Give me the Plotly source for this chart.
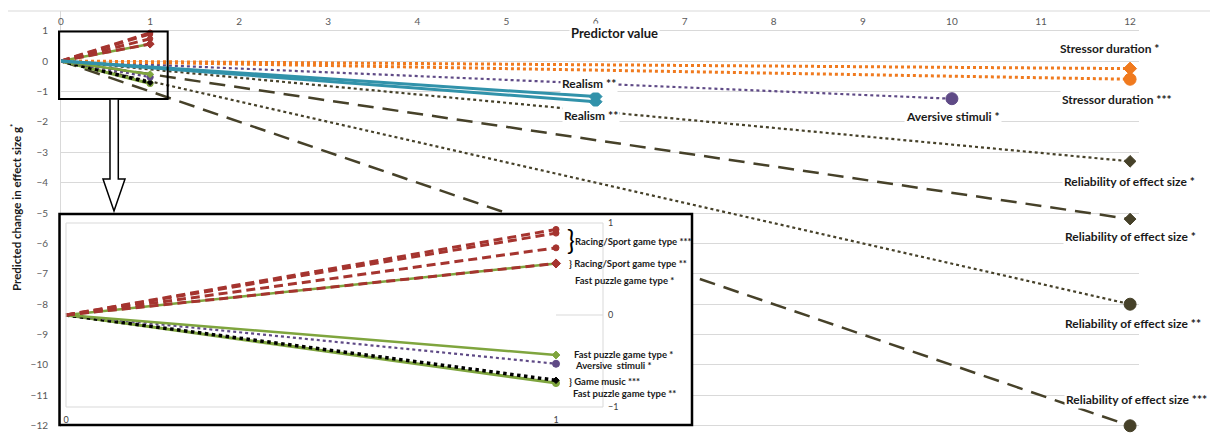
import plotly.graph_objects as go

# ---------------- data ----------------
# main chart series (predictor value -> predicted change in g)
stressor_x = [0, 12]
stressor1_y = [0, -0.25]      # Stressor duration *
stressor3_y = [0, -0.60]      # Stressor duration ***
realism_x = [0, 6]
realism_a_y = [0, -1.17]      # Realism **
realism_b_y = [0, -1.34]      # Realism **
aversive_x = [0, 10]
aversive_y = [0, -1.24]       # Aversive stimuli *
reliab_x = [0, 12]
reliab1_dot_y = [0, -3.3]     # Reliability of effect size *
reliab1_dash_y = [0, -5.2]    # Reliability of effect size *
reliab2_y = [0, -8.0]         # Reliability of effect size **
reliab3_y = [0, -12.0]        # Reliability of effect size ***

# dichotomous predictors (0 -> 1), shown in the inset
inset_x = [0, 1]
racing3_a_y = [0, 0.93]       # Racing/Sport game type ***
racing3_b_y = [0, 0.89]
racing3_c_y = [0, 0.73]
racing2_y = [0, 0.56]         # Racing/Sport game type **
fastpuzzle_pos_y = [0, 0.56]  # Fast puzzle game type *
fastpuzzle1_y = [0, -0.435]   # Fast puzzle game type *
aversive_in_y = [0, -0.53]    # Aversive stimuli *
music_y = [0, -0.71]          # Game music ***
fastpuzzle2_y = [0, -0.74]    # Fast puzzle game type **

main_xticks = list(range(0, 13))
main_yticks = list(range(-12, 2))
inset_xticks = [0, 1]
inset_yticks = [-1, 0, 1]

# ---------------- styling ----------------
ORANGE = "#F07A1E"
TEAL = "#3192AA"
PURPLE = "#5F4A86"
OLIVE = "#464129"
RED = "#A5342F"
GREEN = "#7FA53E"
GRID = "#d9d9d9"
FONT = "Lato"

# page body adds an 8px offset; figure is sized so it fits the window
OFF = 8
W, H = 1218 - OFF, 433 - OFF
L, R, T, B = 61, 1139, 11, 427          # plot area in window pixels
PW, PH = R - L, B - T


def pxx(px):
    return (px - L) / PW


def pyy(py):
    return (B - py) / PH


fig = go.Figure()


def add(x, y, color, width, dash, symbol, msize, axes=("x", "y")):
    fig.add_trace(go.Scatter(
        x=x, y=y, mode="lines+markers",
        line=dict(color=color, width=width, dash=dash),
        marker=dict(symbol=symbol, size=[0, msize], color=color, opacity=1,
                    line=dict(width=1, color=color)),
        xaxis=axes[0], yaxis=axes[1], cliponaxis=False,
        hoverinfo="skip", showlegend=False))


# main chart
add(reliab_x, reliab3_y, OLIVE, 2.5, "16px,9px", "circle", 12)
add(reliab_x, reliab2_y, OLIVE, 2.2, "dot", "circle", 12)
add(reliab_x, reliab1_dash_y, OLIVE, 2.5, "16px,9px", "diamond", 9)
add(reliab_x, reliab1_dot_y, OLIVE, 2.2, "dot", "diamond", 9)
add(aversive_x, aversive_y, PURPLE, 2.2, "dot", "circle", 12)
add(stressor_x, stressor3_y, ORANGE, 3, "dot", "circle", 12)
add(stressor_x, stressor1_y, ORANGE, 3, "dot", "diamond", 10)


def add_dichotomous(axes, scale):
    add(inset_x, fastpuzzle2_y, GREEN, 3, "solid", "circle", 7 * scale, axes)
    add(inset_x, music_y, "black", 3.5, "dot", "diamond", 5 * scale, axes)
    add(inset_x, aversive_in_y, PURPLE, 2.2, "dot", "circle", 7 * scale, axes)
    add(inset_x, fastpuzzle1_y, GREEN, 2.5, "solid", "diamond", 6 * scale, axes)
    add(inset_x, fastpuzzle_pos_y, GREEN, 2.5, "solid", "diamond", 5 * scale, axes)
    add(inset_x, racing2_y, RED, 3, "9px,5px", "diamond", 7 * scale, axes)
    add(inset_x, racing3_c_y, RED, 3, "9px,5px", "circle", 6 * scale, axes)
    add(inset_x, racing3_b_y, RED, 3, "9px,5px", "circle", 6 * scale, axes)
    add(inset_x, racing3_a_y, RED, 3, "9px,5px", "circle", 6 * scale, axes)


add_dichotomous(("x", "y"), 0.9)
add(realism_x, realism_a_y, TEAL, 3, "solid", "diamond", 10)
add(realism_x, realism_b_y, TEAL, 3, "solid", "diamond", 10)

# inset
add_dichotomous(("x2", "y2"), 1.0)

# ---------------- layout ----------------
fig.update_layout(
    width=W, height=H,
    margin=dict(l=L - OFF, r=W - (R - OFF), t=T - OFF, b=H - (B - OFF), pad=0,
                autoexpand=False),
    paper_bgcolor="white", plot_bgcolor="white",
    showlegend=False,
    font=dict(family=FONT, color="#404040"),
    xaxis=dict(range=[0, 12.1], side="top", anchor="free", position=pyy(27),
               tickvals=main_xticks, showgrid=False, zeroline=False,
               showline=False, ticks="", automargin=False,
               tickfont=dict(size=10, color="#595959"), domain=[0, 1]),
    yaxis=dict(range=[-12.04, 1.645], tickvals=main_yticks, showgrid=True,
               gridcolor=GRID, gridwidth=1, zeroline=False, showline=True,
               linecolor=GRID, linewidth=1, ticks="", ticklabelstandoff=10,
               automargin=False,
               tickfont=dict(size=10, color="#595959"), domain=[0, 1]),
    xaxis2=dict(domain=[pxx(L), pxx(692)], range=[-(66 - L) / 490, (692 - 66) / 490],
                anchor="free", position=pyy(413), tickvals=inset_xticks,
                showgrid=False, zeroline=False, showline=False, ticks="",
                automargin=False,
                tickfont=dict(size=9, color="#404040")),
    yaxis2=dict(domain=[pyy(424), pyy(214)], range=[-(424 - 315) / 92, (315 - 214) / 92],
                anchor="free", position=pxx(607), side="right",
                tickvals=inset_yticks, showgrid=False, zeroline=False,
                showline=False, ticks="", automargin=False,
                tickfont=dict(size=9, color="#404040")),
)

shapes = []
# outer chart border
shapes.append(dict(type="rect", xref="paper", yref="paper", layer="below",
                   x0=pxx(7), x1=pxx(1217), y0=pyy(445), y1=pyy(11),
                   line=dict(color=GRID, width=1)))
# inset plot-area border and zero tick segment
shapes.append(dict(type="rect", xref="paper", yref="paper", layer="above",
                   x0=pxx(66), x1=pxx(603), y0=pyy(407), y1=pyy(223),
                   line=dict(color=GRID, width=1)))
shapes.append(dict(type="line", xref="paper", yref="paper", layer="above",
                   x0=pxx(556), x1=pxx(603), y0=pyy(315), y1=pyy(315),
                   line=dict(color=GRID, width=1)))
# small zoom box on main chart
shapes.append(dict(type="rect", xref="paper", yref="paper", layer="above",
                   x0=pxx(59), x1=pxx(167.7), y0=pyy(99), y1=pyy(31.5),
                   line=dict(color="black", width=2)))
# inset frame
shapes.append(dict(type="rect", xref="paper", yref="paper", layer="above",
                   x0=pxx(59.5), x1=pxx(692), y0=pyy(425), y1=pyy(214),
                   line=dict(color="black", width=2.5)))
# hollow arrow
pts = [(110, 99), (110, 179), (103, 179), (114, 211), (125, 179), (118.3, 179), (118.3, 99)]
path = "M " + " L ".join(f"{pxx(a):.5f},{pyy(b):.5f}" for a, b in pts) + " Z"
shapes.append(dict(type="path", xref="paper", yref="paper", layer="above",
                   path=path, fillcolor="white", line=dict(color="black", width=1.5)))
fig.update_layout(shapes=shapes)

ann = []


def label(text, cx, cy, size=12, anchor="center", bg="white", bold=True, color="#1a1a1a"):
    ann.append(dict(text=text, x=pxx(cx), y=pyy(cy), xref="paper", yref="paper",
                    xanchor=anchor, yanchor="middle", showarrow=False,
                    bgcolor=bg, borderpad=1,
                    font=dict(family=FONT, size=size, color=color,
                              weight="bold" if bold else "normal")))


label("Predictor value", 614, 33, size=13)
label("Stressor duration *", 1109, 48)
label("Stressor duration ***", 1117, 99)
label("Realism **", 589, 83)
label("Realism **", 591, 115)
label("Aversive stimuli *", 953, 116)
label("Reliability of effect size *", 1129, 181)
label("Reliability of effect size *", 1130, 236)
label("Reliability of effect size **", 1133, 323)
label("Reliability of effect size ***", 1136, 399)

# inset labels
label("}", 565, 240, size=26, anchor="left", bg=None, bold=False, color="black")
label("Racing/Sport game type ***", 573, 241, size=9.5, anchor="left", bg=None)
label("} Racing/Sport game type **", 567, 263, size=9.5, anchor="left", bg=None)
label("Fast puzzle game type *", 573, 280, size=9.5, anchor="left", bg=None)
label("Fast puzzle game type *", 572, 354, size=9.5, anchor="left", bg=None)
label("Aversive  stimuli *", 573, 365, size=9.5, anchor="left", bg=None)
label("} Game music ***", 567, 381, size=9.5, anchor="left", bg=None)
label("Fast puzzle game type **", 571, 393, size=9.5, anchor="left", bg=None)

# y-axis title
ann.append(dict(text="Predicted change in effect size g<sup>*</sup>", x=pxx(15), y=pyy(207),
                xref="paper", yref="paper", xanchor="center", yanchor="middle",
                textangle=-90, showarrow=False,
                font=dict(family=FONT, size=11.5, color="#1a1a1a", weight="bold")))
fig.update_layout(annotations=ann)

fig.write_html("out.html")
